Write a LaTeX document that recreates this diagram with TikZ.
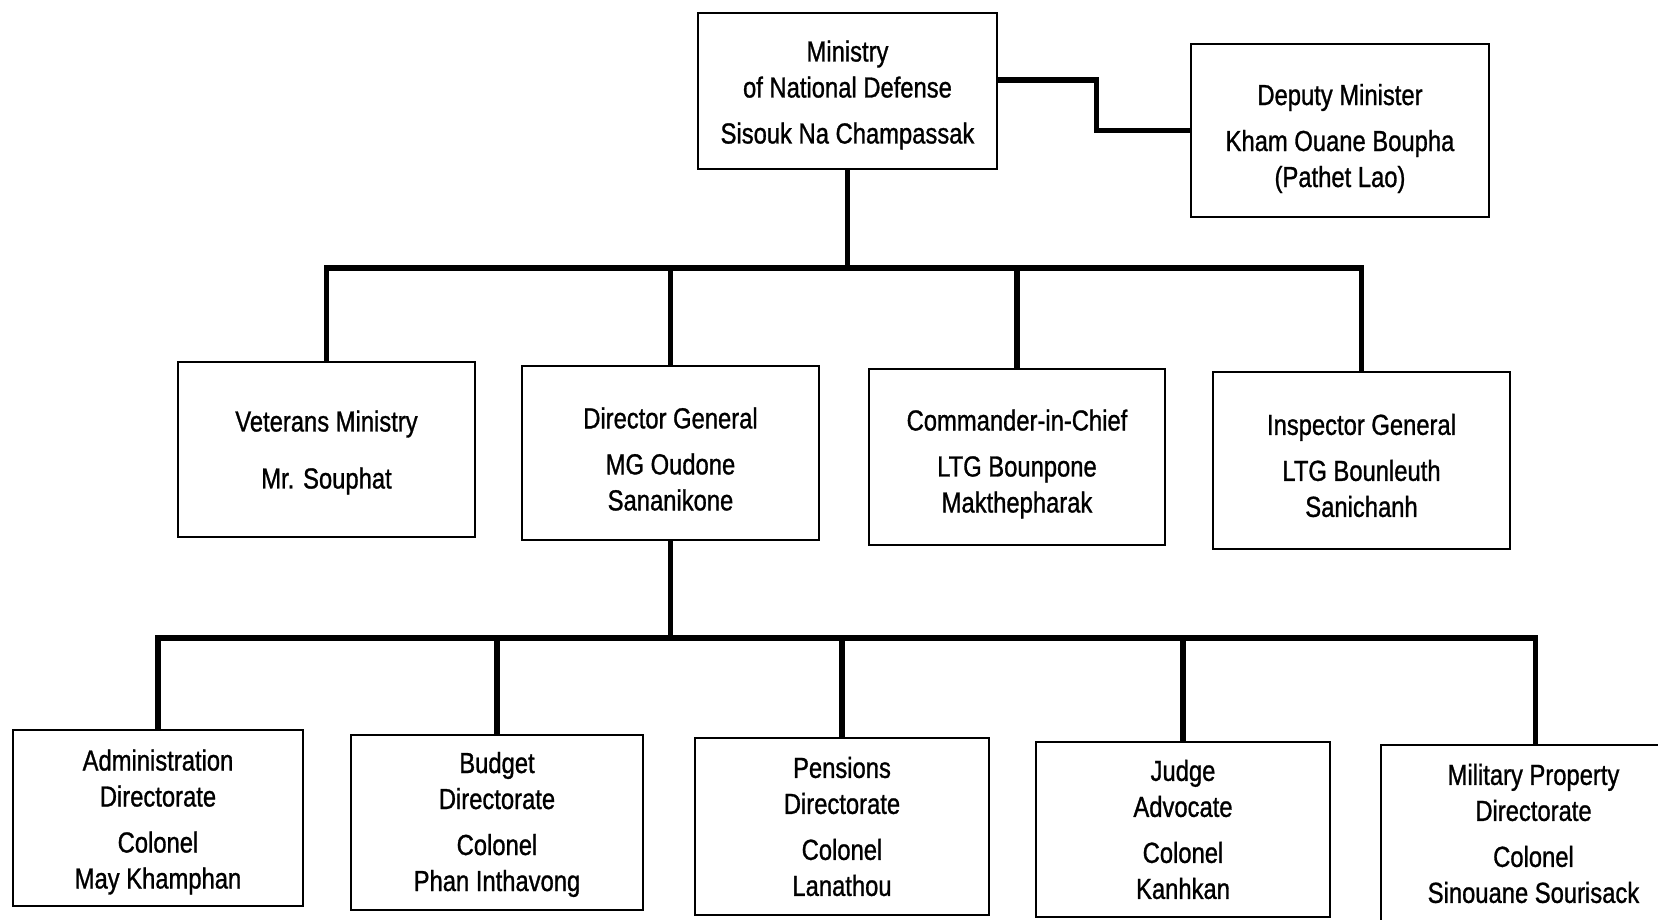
\documentclass[tikz,border=0pt]{standalone}
\usepackage{fontspec}
\setmainfont[FakeStretch=0.82,FakeBold=1]{Liberation Sans}
\begin{document}
\begin{tikzpicture}[x=1pt,y=-1pt,
  box/.style={draw, line width=2.6pt, inner sep=0pt},
  txt/.style={inner sep=0pt, align=center, font=\fontsize{29}{36}\selectfont},
  conn/.style={line width=5.5pt, line cap=rect}]
\useasboundingbox (0,0) rectangle (1658,920);
% top
\node[box, minimum width=299pt, minimum height=156pt] (min) at (847.5,91) {};
\node[txt] (tmin) at ([yshift=-4pt]min.center)
  {Ministry\\of National Defense\\[10pt]Sisouk Na Champassak};
\node[box, minimum width=298pt, minimum height=173pt] (dep) at (1340,130.5) {};
\node[txt] (tdep) at ([yshift=-8pt]dep.center)
  {Deputy Minister\\[10pt]Kham Ouane Boupha\\(Pathet Lao)};
% row 2
\node[box, minimum width=297pt, minimum height=175pt] (vet) at (326.5,449.5) {};
\node[txt] (tvet) at ([yshift=-3pt]vet.center)
  {Veterans Ministry\\[21pt]Mr. Souphat};
\node[box, minimum width=297pt, minimum height=174pt] (dg) at (670.5,453) {};
\node[txt] (tdg) at ([yshift=-6pt]dg.center)
  {Director General\\[10pt]MG Oudone\\Sananikone};
\node[box, minimum width=296pt, minimum height=176pt] (cic) at (1017,457) {};
\node[txt] (tcic) at ([yshift=-7pt]cic.center)
  {Commander-in-Chief\\[10pt]LTG Bounpone\\Makthepharak};
\node[box, minimum width=297pt, minimum height=177pt] (ig) at (1361.5,460.5) {};
\node[txt] (tig) at ([yshift=-5pt]ig.center)
  {Inspector General\\[10pt]LTG Bounleuth\\Sanichanh};
% row 3
\node[box, minimum width=290pt, minimum height=176pt] (adm) at (158,818) {};
\node[txt] (tadm) at ([yshift=-4pt]adm.center)
  {Administration\\Directorate\\[10pt]Colonel\\May Khamphan};
\node[box, minimum width=292pt, minimum height=175pt] (bud) at (497,822.5) {};
\node[txt] (tbud) at ([yshift=-2pt]bud.center)
  {Budget\\Directorate\\[10pt]Colonel\\Phan Inthavong};
\node[box, minimum width=294pt, minimum height=177pt] (pen) at (842,826.5) {};
\node[txt] (tpen) at (pen.center)
  {Pensions\\Directorate\\[10pt]Colonel\\Lanathou};
\node[box, minimum width=294pt, minimum height=175pt] (jud) at (1183,829.5) {};
\node[txt] (tjud) at (jud.center)
  {Judge\\Advocate\\[10pt]Colonel\\Kanhkan};
\node[box, minimum width=309pt, minimum height=177pt] (mil) at (1535.5,833.5) {};
\node[txt] (tmil) at ([xshift=-2pt]mil.center)
  {Military Property\\Directorate\\[10pt]Colonel\\Sinouane Sourisack};
% connectors
\draw[conn] ([yshift=11pt]min.east) -- ++(98,0) |- (dep.west);
\coordinate (b1l) at (vet.north |- 0,268);
\coordinate (b1r) at (ig.north |- 0,268);
\draw[conn] (min.south) -- (min.south |- b1l);
\draw[conn] (b1l) -- (b1r);
\foreach \n in {vet,dg,cic,ig}
  \draw[conn] (\n.north |- b1l) -- (\n.north);
\coordinate (b2l) at (adm.north |- 0,638);
\coordinate (b2r) at (mil.north |- 0,638);
\draw[conn] (dg.south) -- (dg.south |- b2l);
\draw[conn] (b2l) -- (b2r);
\foreach \n in {adm,bud,pen,jud,mil}
  \draw[conn] (\n.north |- b2l) -- (\n.north);
\end{tikzpicture}
\end{document}
